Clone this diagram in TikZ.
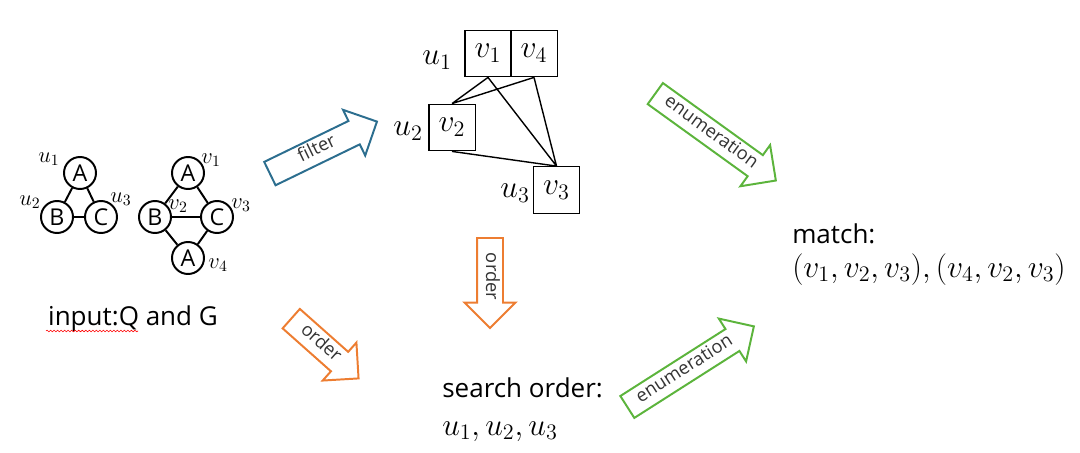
\RequirePackage{fix-cm}
\documentclass[tikz,border=0pt]{standalone}
\usepackage[no-math]{fontspec}
\setmainfont{Open Sans}
\usetikzlibrary{shapes.arrows,positioning,decorations.pathmorphing}
\definecolor{filterColor}{RGB}{44,110,143}
\definecolor{orderColor}{RGB}{237,125,49}
\definecolor{enumColor}{RGB}{92,180,60}
\newcommand{\bigtext}{\fontsize{18.5}{20}\selectfont}
\newcommand{\mathtext}{\fontsize{22.5}{25}\selectfont}
\tikzset{
  vert/.style={circle,draw,line width=1.4pt,minimum size=0.8cm,inner sep=0pt,font=\fontsize{16.5}{16.5}\selectfont},
  vlab/.style={inner sep=0pt,font=\fontsize{16}{16}\selectfont},
  cand/.style={draw,line width=1pt,minimum size=1.16cm,inner sep=0pt,font=\mathtext},
  blockarrow/.style={single arrow,draw,line width=1.4pt,fill=white,anchor=tail,
    single arrow head extend=0.31cm,text height=0.25cm,text depth=0.06cm,
    inner ysep=0.145cm,inner xsep=0pt,font=\fontsize{13}{13}\selectfont,text=black!80},
  plain/.style={inner sep=0pt,anchor=base west}
}
\begin{document}
\begin{tikzpicture}[x=0.025cm,y=-0.025cm]
\useasboundingbox (0,0) rectangle (1080,453);

% query graph Q
\node[vert] (qa) at (80,173) {A};
\node[vert] (qb) at (57,217) {B};
\node[vert] (qc) at (101,217) {C};
\draw[line width=1.4pt] (qa)--(qb)--(qc)--(qa);
\node[vlab] (qua) at (49,159) {$u_1$};
\node[vlab] (qub) at (30,202) {$u_2$};
\node[vlab] (quc) at (121,199) {$u_3$};

% data graph G
\node[vert] (ga) at (188,173) {A};
\node[vert] (gb) at (155,217) {B};
\node[vert] (gc) at (217,217) {C};
\node[vert] (gd) at (188,258) {A};
\draw[line width=1.4pt] (ga)--(gb)--(gd)--(gc)--(ga) (gb)--(gc);
\node[vlab] (gva) at (211,160) {$v_1$};
\node[vlab] (gvb) at (178,206) {$v_2$};
\node[vlab] (gvc) at (241,205) {$v_3$};
\node[vlab] (gvd) at (218,265) {$v_4$};

\node[inner sep=0pt,anchor=base,font=\bigtext] (input) at (133,325) {input:Q and G};
\draw[red,line width=0.4pt,decorate,decoration={snake,amplitude=0.6pt,segment length=2.5pt}]
  (46,331) -- (138,331);

% candidate sets
\node[cand] (c1) at (488,53.5) {$v_1$};
\node[cand] (c4) at (534,53.5) {$v_4$};
\node[cand] (c2) at (452,127.5) {$v_2$};
\node[cand] (c3) at (556.5,190) {$v_3$};
\draw[line width=1pt] (c1.south)--(c2.north) (c4.south)--(c2.north)
  (c1.south)--(c3.north) (c4.south)--(c3.north) (c2.south)--(c3.north);
\node[font=\mathtext,inner sep=0pt] (cu1) at (437,60) {$u_1$};
\node[font=\mathtext,inner sep=0pt] (cu2) at (408,131) {$u_2$};
\node[font=\mathtext,inner sep=0pt] (cu3) at (515,193) {$u_3$};

% block arrows
\node[blockarrow,draw=filterColor,rotate=25.9,minimum height=2.975cm] (filter) at (269,174) {filter};
\node[blockarrow,draw=enumColor,rotate=-35.8,minimum height=3.715cm] (enumtop) at (654.5,93) {enumeration};
\node[blockarrow,draw=orderColor,rotate=-41.6,minimum height=2.25cm] (orderleft) at (290.5,318) {order};
\node[blockarrow,draw=orderColor,rotate=-90,minimum height=2.25cm] (orderdown) at (490,237) {order};
\node[blockarrow,draw=enumColor,rotate=32.5,minimum height=3.75cm] (enumbottom) at (626.5,407.5) {enumeration};

% results
\node[plain,font=\bigtext] (searchtitle) at (442,397) {search order:};
\node[plain,font=\mathtext] (searchlist) at (442,435) {$u_1,u_2,u_3$};
\node[plain,font=\bigtext] (matchtitle) at (792,243) {match:};
\node[plain,font=\mathtext] (matchlist) at (792,277) {$(v_1,v_2,v_3),(v_4,v_2,v_3)$};
\end{tikzpicture}
\end{document}
